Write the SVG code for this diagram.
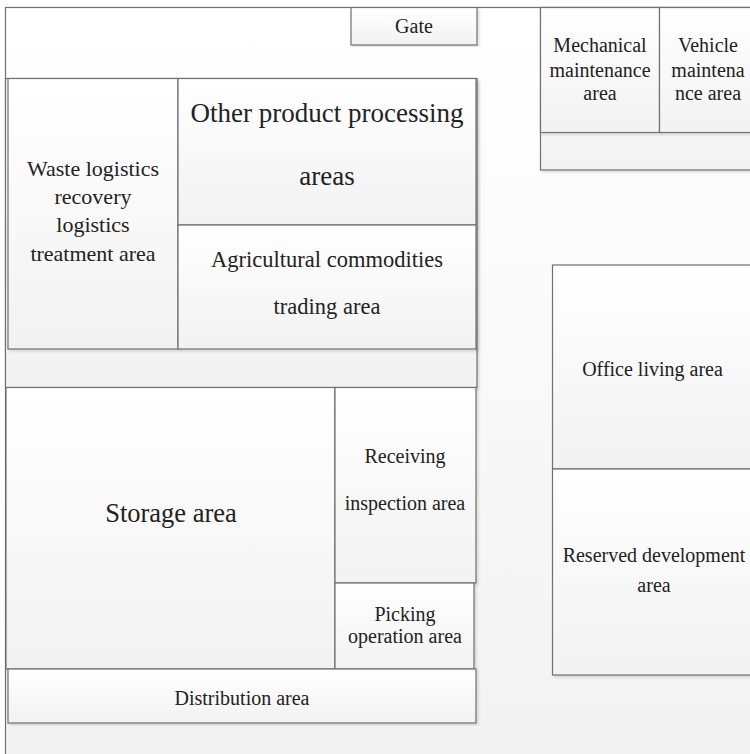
<svg xmlns="http://www.w3.org/2000/svg" width="750" height="754" viewBox="0 0 750 754" font-family="'Liberation Serif', 'DejaVu Serif', serif">
  <defs>
    <linearGradient id="fade" x1="0" y1="0" x2="0" y2="1">
      <stop offset="0" stop-color="#ffffff"/>
      <stop offset="1" stop-color="#f2f2f2"/>
    </linearGradient>
    <filter id="shadow" x="-5%" y="-5%" width="110%" height="110%">
      <feDropShadow dx="2" dy="2" stdDeviation="1" flood-color="#000" flood-opacity="0.12"/>
    </filter>
  </defs>
  <style>
    .zone { fill: url(#fade); stroke: #6f6f6f; stroke-width: 1.2; filter: url(#shadow); }
    text { font-family: 'Liberation Serif', 'DejaVu Serif', serif; fill: #222; text-anchor: middle; }
    .s20 { font-size: 20px; }
    .s22 { font-size: 22px; }
    .s23 { font-size: 22.5px; }
    .s26 { font-size: 26.5px; }
    .s27 { font-size: 27px; }
  </style>

  <!-- site boundary -->
  <g id="site">
    <rect class="zone" x="5.5" y="7.5" width="760" height="760"/>
  </g>

  <g id="gate">
    <rect class="zone" x="351" y="7.5" width="126" height="37.5"/>
    <text class="s20" x="414" y="33">Gate</text>
  </g>

  <!-- upper-left block with service road strip at its bottom -->
  <g id="upper-block">
    <rect class="zone" x="5.5" y="78.5" width="471.5" height="309"/>
  </g>

  <g id="waste-area">
    <rect class="zone" x="8" y="78.5" width="170" height="270.5"/>
    <text class="s22" x="93" y="176">Waste logistics</text>
    <text class="s22" x="93" y="204">recovery</text>
    <text class="s22" x="93" y="232">logistics</text>
    <text class="s22" x="93" y="261">treatment area</text>
  </g>

  <g id="processing-area">
    <rect class="zone" x="178" y="78.5" width="298" height="146.5"/>
    <text class="s27" x="327" y="122">Other product processing</text>
    <text class="s27" x="327" y="185">areas</text>
  </g>

  <g id="trading-area">
    <rect class="zone" x="178" y="225" width="298" height="124"/>
    <text class="s23" x="327" y="267">Agricultural commodities</text>
    <text class="s23" x="327" y="314">trading area</text>
  </g>

  <g id="storage-area">
    <rect class="zone" x="6" y="387.5" width="329" height="281.5"/>
    <text class="s26" x="171" y="522">Storage area</text>
  </g>

  <g id="receiving-area">
    <rect class="zone" x="335" y="387.5" width="141" height="195.5"/>
    <text class="s20" x="405" y="463">Receiving</text>
    <text class="s20" x="405" y="510">inspection area</text>
  </g>

  <g id="picking-area">
    <rect class="zone" x="335" y="583" width="139" height="86"/>
    <text class="s20" x="405" y="621">Picking</text>
    <text class="s20" x="405" y="643">operation area</text>
  </g>

  <g id="distribution-area">
    <rect class="zone" x="8" y="669" width="468" height="54"/>
    <text class="s20" x="242" y="705">Distribution area</text>
  </g>

  <!-- maintenance block with strip below -->
  <g id="maintenance-block">
    <rect class="zone" x="540.5" y="7.5" width="220" height="162.5"/>
  </g>

  <g id="mechanical-maintenance">
    <rect class="zone" x="540.5" y="7.5" width="119" height="125"/>
    <text class="s20" x="600" y="52">Mechanical</text>
    <text class="s20" x="600" y="77">maintenance</text>
    <text class="s20" x="600" y="100">area</text>
  </g>

  <g id="vehicle-maintenance">
    <rect class="zone" x="659.5" y="7.5" width="100" height="125"/>
    <text class="s20" x="708" y="52">Vehicle</text>
    <text class="s20" x="708" y="77">maintena</text>
    <text class="s20" x="708" y="100">nce area</text>
  </g>

  <g id="office-living">
    <rect class="zone" x="552.5" y="265" width="205" height="204"/>
    <text class="s20" x="652.5" y="376">Office living area</text>
  </g>

  <g id="reserved-development">
    <rect class="zone" x="552.5" y="469" width="205" height="206"/>
    <text class="s20" x="654" y="562">Reserved development</text>
    <text class="s20" x="654" y="592">area</text>
  </g>

  <g id="connectors"></g>
</svg>
